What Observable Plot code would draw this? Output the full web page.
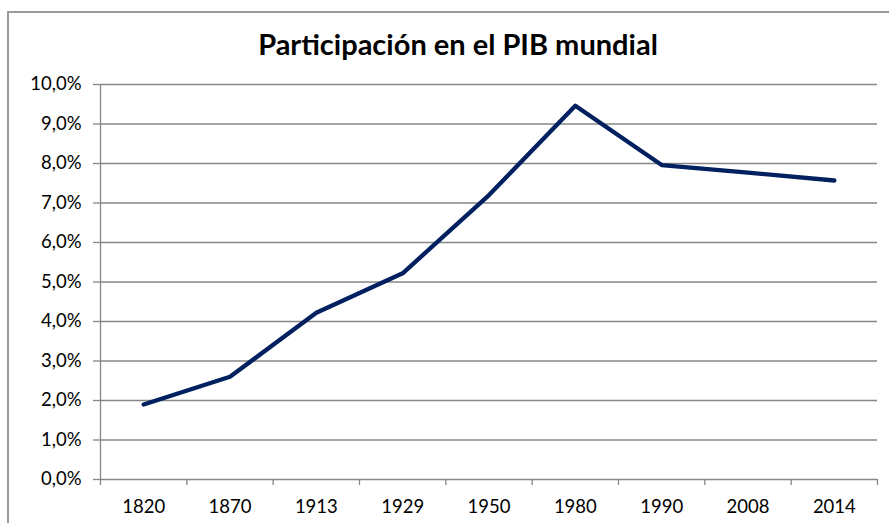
<!DOCTYPE html>
<html>
<head>
<meta charset="utf-8">
<script src="https://cdn.jsdelivr.net/npm/d3@7"></script>
<script src="https://cdn.jsdelivr.net/npm/@observablehq/plot@0.6"></script>
<style>
  html, body { margin: 0; padding: 0; background: #fff; }
  #wrap { position: relative; width: 889px; height: 523px; overflow: hidden; background: #fff; }
  #frame { position: absolute; left: 7px; top: 11px; width: 1000px; height: 1000px;
           border-left: 2px solid #9a9a9a; border-top: 2px solid #9a9a9a; box-sizing: border-box; }
  #title { position: absolute; left: 0; top: 26px; width: 916px; text-align: center;
           font-family: Lato, sans-serif; font-weight: bold; font-size: 29px; line-height: 36px; color: #000; }
  #chart { position: absolute; left: 0; top: 0; }
</style>
</head>
<body>
<div id="wrap">
  <div id="frame"></div>
  <div id="title">Participación en el PIB mundial</div>
  <div id="chart"></div>
</div>
<script>
const years = ["1820", "1870", "1913", "1929", "1950", "1980", "1990", "2008", "2014"];
const shares = [1.9, 2.6, 4.22, 5.22, 7.2, 9.46, 7.96, 7.77, 7.57];
const yTicks = [0, 1, 2, 3, 4, 5, 6, 7, 8, 9, 10];

const data = years.map((year, i) => ({year, idx: i + 0.5, share: shares[i]}));
const fmt = d => d.toFixed(1).replace(".", ",") + "%";
const gray = "#868686";

const chart = Plot.plot({
  width: 889,
  height: 523,
  marginLeft: 100,
  marginRight: 12,
  marginTop: 84,
  marginBottom: 44,
  style: {fontFamily: "Lato, sans-serif", fontSize: "18.5px", color: "#000", background: "transparent", overflow: "visible"},
  x: {type: "linear", domain: [0, years.length]},
  y: {domain: [0, 10]},
  marks: [
    Plot.gridY(yTicks, {stroke: gray, strokeOpacity: 1, strokeWidth: 1.3}),
    Plot.axisY({ticks: yTicks, tickSize: 7, tickPadding: 12, tickFormat: fmt, stroke: gray, strokeWidth: 1.3, fill: "#000", label: null}),
    Plot.ruleX([0], {stroke: gray, strokeWidth: 1.3}),
    Plot.axisX({ticks: d3.range(years.length + 1), tickSize: 6, tickFormat: () => "", stroke: gray, strokeWidth: 1.3, label: null}),
    Plot.axisX({ticks: data.map(d => d.idx), tickSize: 0, tickPadding: 20, tickFormat: d => years[Math.floor(d)], fill: "#000", label: null}),
    Plot.line(data, {x: "idx", y: "share", stroke: "#002060", strokeWidth: 4.3, strokeLinecap: "round", strokeLinejoin: "round"})
  ]
});
document.getElementById("chart").appendChild(chart);
</script>
</body>
</html>
